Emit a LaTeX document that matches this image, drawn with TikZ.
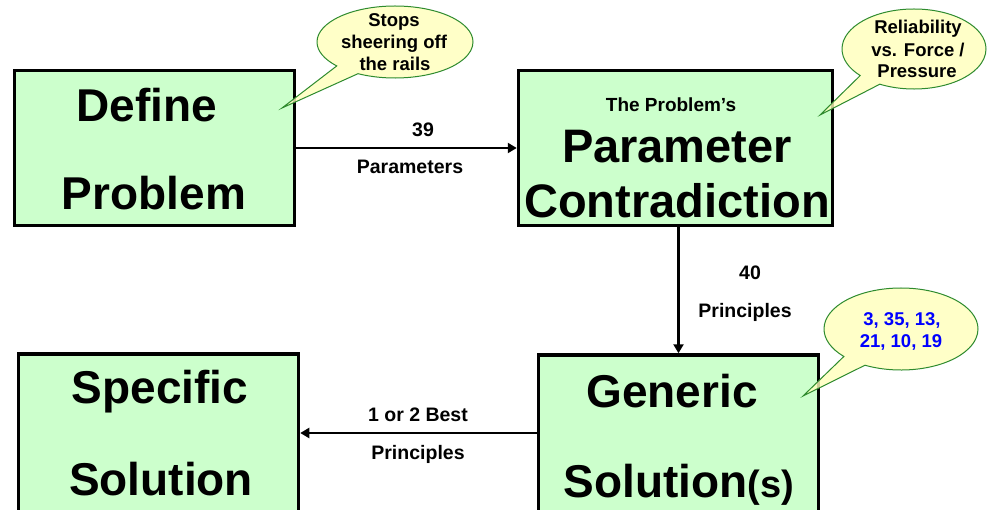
\documentclass[tikz,border=0pt]{standalone}
\usepackage{fontspec}
\setmainfont{Liberation Sans}
\usetikzlibrary{shapes.callouts,arrows.meta}
\definecolor{boxgreen}{HTML}{CCFFCC}
\definecolor{callyellow}{HTML}{FFFFBB}
\definecolor{callgreen}{HTML}{2E8B2E}
\definecolor{numblue}{HTML}{0000FF}
\begin{document}
\begin{tikzpicture}[x=1pt,y=-1pt,
 procbox/.style={draw=black,line width=3.5pt,fill=boxgreen,rectangle,inner sep=0pt},
 bigtxt/.style={font=\fontsize{46}{50}\selectfont\bfseries,anchor=base,inner sep=0pt},
 midtxt/.style={font=\fontsize{19}{22}\selectfont\bfseries,anchor=base,inner sep=0pt},
 lbl/.style={font=\fontsize{19.5}{22}\selectfont\bfseries,anchor=base,inner sep=0pt},
 bubble/.style={ellipse callout,draw=callgreen,line width=1pt,fill=callyellow,fill opacity=0.8,inner sep=0pt,callout pointer arc=20},
 btxt/.style={font=\fontsize{18.5}{20}\selectfont\bfseries,anchor=base,inner sep=0pt},
 arr/.style={line width=2.8pt,-{Triangle[length=9pt,width=10pt]}}
]
\useasboundingbox (0,0) rectangle (987,510);
\clip (0,0) rectangle (987,510);
\fill[white] (0,0) rectangle (987,510);

% boxes
\node[procbox,minimum width=280pt,minimum height=155pt] (db) at (154.5,148) {};
\node[procbox,minimum width=314pt,minimum height=155pt] (pc) at (675.5,148) {};
\node[procbox,minimum width=280pt,minimum height=175pt] (ss) at (158.5,441.5) {};
\node[procbox,minimum width=280pt,minimum height=175pt] (gs) at (678.5,442.5) {};

% arrows
\draw[arr] (db.east) -- (pc.west);
\draw[arr] (pc.south -| gs.north) -- (gs.north);
\draw[arr] (gs.west |- 0,433) -- (ss.east |- 0,433);

% arrow labels
\node[lbl] (l39) at (423,137) {39};
\node[lbl] (lpar) at (410,174) {Parameters};
\node[lbl] (l40) at (750,280) {40};
\node[lbl] (lpri) at (745,317) {Principles};
\node[lbl] (lbest) at (418,421) {1 or 2 Best};
\node[lbl] (lpri2) at (418,459) {Principles};

% box texts
\node[bigtxt] (t1) at (147,122) {Define};
\node[bigtxt] (t2) at (154,210) {Problem};
\node[midtxt] (t3) at (671,112) {The Problem’s};
\node[bigtxt,font=\fontsize{47}{50}\selectfont\bfseries] (t4) at (677,163) {Parameter};
\node[bigtxt,font=\fontsize{47}{50}\selectfont\bfseries] (t5) at (677,218) {Contradiction};
\node[bigtxt] (t6) at (160,403) {Specific};
\node[bigtxt] (t7) at (161,495) {Solution};
\node[bigtxt] (t8) at (672,407) {Generic};
\node[bigtxt] (t9) at (679,497) {Solution{\fontsize{38}{40}\selectfont(s)}};

% callouts
\node[bubble,minimum width=156pt,minimum height=72pt,callout absolute pointer={(282,108)}] (c1) at (395,42) {};
\node[bubble,minimum width=144pt,minimum height=80pt,callout absolute pointer={(820,115)}] (c2) at (914,49) {};
\node[bubble,minimum width=154pt,minimum height=82pt,callout absolute pointer={(803,396)}] (c3) at (901,329) {};

\node[btxt] (c1a) at (394,27) {Stops};
\node[btxt] (c1b) at (394,49) {sheering off};
\node[btxt] (c1c) at (395,71) {the rails};
\node[btxt] (c2a) at (918,34) {Reliability};
\node[btxt] (c2b) at (918,57) {vs. Force /};
\node[btxt] (c2c) at (917,78) {Pressure};
\node[btxt,text=numblue] (c3a) at (902,325) {3, 35, 13,};
\node[btxt,text=numblue] (c3b) at (901,347) {21, 10, 19};
\end{tikzpicture}
\end{document}
